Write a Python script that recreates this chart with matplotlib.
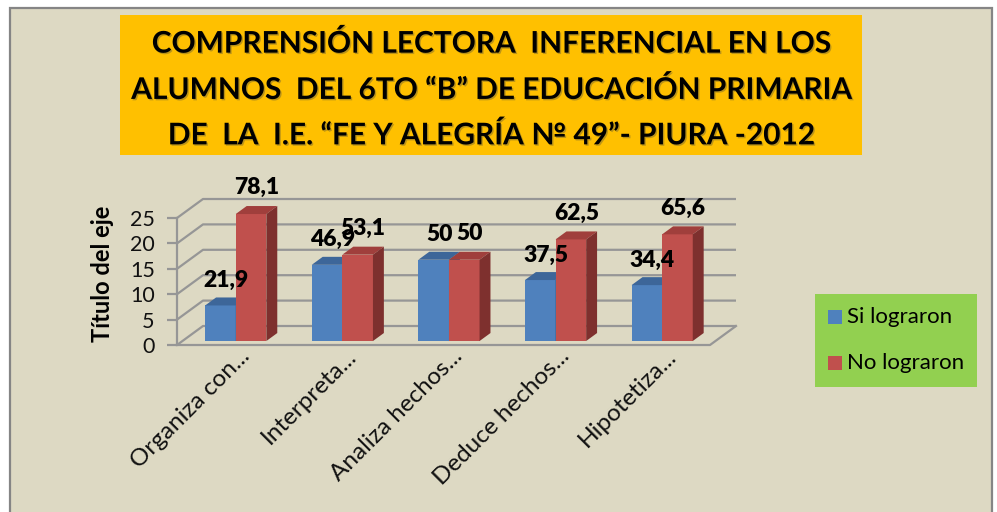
import matplotlib.pyplot as plt
import matplotlib.patheffects as pe
import matplotlib.transforms as mtransforms
from matplotlib.patches import Polygon, Rectangle

# data (bar heights are student counts, labels are percentages)
categories = ["Organiza con...", "Interpreta...", "Analiza hechos...",
              "Deduce hechos...", "Hipotetiza..."]
si_lograron = [7, 15, 16, 12, 11]
no_lograron = [25, 17, 16, 20, 21]
si_labels = ["21,9", "46,9", "50", "37,5", "34,4"]
no_labels = ["78,1", "53,1", "50", "62,5", "65,6"]
y_ticks = [0, 5, 10, 15, 20, 25]

title = ("COMPRENSIÓN LECTORA  INFERENCIAL EN LOS\n"
         "ALUMNOS  DEL 6TO “B” DE EDUCACIÓN PRIMARIA\n"
         "DE  LA  I.E. “FE Y ALEGRÍA № 49”- PIURA -2012")

BG = "#ddd9c3"
BLUE, BLUE_TOP, BLUE_SIDE = "#4f81bd", "#3d6699", "#385d8a"
RED, RED_TOP, RED_SIDE = "#c0504d", "#a03f3c", "#7e302e"
GRID = "#969696"

plt.rcParams['font.family'] = ['Lato', 'DejaVu Sans']

W, H = 997, 512
fig = plt.figure(figsize=(W / 100, H / 100), dpi=100, facecolor="white")


def fx(p):
    return p / W


def fy(p):
    return 1 - p / H


# chart area with border
fig.add_artist(Rectangle((fx(10), fy(530)), fx(982), 522 / H, transform=fig.transFigure,
                         facecolor=BG, edgecolor="#858585", lw=1.6, zorder=0))

# title box
fig.add_artist(Rectangle((fx(120), fy(155)), fx(742), 140 / H, transform=fig.transFigure,
                         facecolor="#ffc000", edgecolor="none", zorder=1))
fig.text(fx(491), fy(89), title, ha="center", va="center", fontsize=21.5,
         fontweight="bold", linespacing=1.72, color="black", zorder=2,
         path_effects=[pe.withSimplePatchShadow(offset=(1, -1), shadow_rgbFace="#7a6a30", alpha=0.5)])

# plot axes (front plane of the 3D box)
ax = fig.add_axes([fx(177), fy(345), fx(533), 127 / H])
ax.set_xlim(-0.5, 4.5)
ax.set_ylim(0, 25)
ax.patch.set_visible(False)

DX = 26 / (533 / 5)      # depth offset in x units
DY = 19 / (127 / 25)     # depth offset in y units
Z0 = 0.21                # bar front depth
ZD = 0.42                # bar depth
BW = 0.287

# walls / gridlines
for v in y_ticks:
    ax.plot([-0.5, -0.5 + DX, 4.5 + DX], [v, v + DY, v + DY], color=GRID, lw=1.6,
            zorder=1, clip_on=False, solid_capstyle="butt")
ax.plot([-0.5, 4.5, 4.5 + DX], [0, 0, DY], color=GRID, lw=1.6, zorder=1, clip_on=False)

for s in ["top", "right", "bottom"]:
    ax.spines[s].set_visible(False)
ax.spines["left"].set_color(GRID)
ax.spines["left"].set_linewidth(1.6)
ax.set_yticks(y_ticks)
ax.tick_params(axis="y", length=7, width=1.6, color=GRID, labelsize=15.5, pad=9,
               labelcolor="#111111")
ax.set_ylabel("Título del eje", fontsize=17, fontweight="bold")
ax.yaxis.set_label_coords(-0.118, 0.56)


def draw_bar(x0, value, front, top, side):
    base = DY * Z0
    left = x0 + DX * Z0
    ax.bar(left, value, width=BW, bottom=base, align="edge", color=front, zorder=3,
           clip_on=False)
    ddx, ddy = DX * ZD, DY * ZD
    t = base + value
    ax.add_patch(Polygon([(left, t), (left + BW, t), (left + BW + ddx, t + ddy), (left + ddx, t + ddy)],
                         closed=True, facecolor=top, edgecolor="none", zorder=3, clip_on=False))
    ax.add_patch(Polygon([(left + BW, base), (left + BW, t), (left + BW + ddx, t + ddy),
                          (left + BW + ddx, base + ddy)],
                         closed=True, facecolor=side, edgecolor="none", zorder=3, clip_on=False))
    return left + BW / 2 + ddx / 2, t


for i in range(len(categories)):
    bx, bt = draw_bar(i - BW, si_lograron[i], BLUE, BLUE_TOP, BLUE_SIDE)
    rx, rt = draw_bar(i, no_lograron[i], RED, RED_TOP, RED_SIDE)
    ax.annotate(si_labels[i], (bx, bt), xytext=(0, 18), textcoords="offset points",
                ha="center", va="center", fontsize=16.5, fontweight="heavy", zorder=6,
                annotation_clip=False)
    ax.annotate(no_labels[i], (rx, rt), xytext=(0, 19), textcoords="offset points",
                ha="center", va="center", fontsize=16.5, fontweight="heavy", zorder=6,
                annotation_clip=False)

# category labels
ax.set_xticks(range(len(categories)))
ax.set_xticklabels(categories, rotation=45, ha="right", va="center",
                   rotation_mode="anchor", fontsize=17.5, color="#111111")
ax.tick_params(axis="x", length=0, pad=0)
shift = mtransforms.ScaledTranslation(0.16, -0.08, fig.dpi_scale_trans)
for lab in ax.get_xticklabels():
    lab.set_transform(lab.get_transform() + shift)

# legend box
fig.add_artist(Rectangle((fx(815), fy(387)), fx(162), 93 / H, transform=fig.transFigure,
                         facecolor="#92d050", edgecolor="none", zorder=1))
for k, (name, col) in enumerate([("Si lograron", BLUE), ("No lograron", RED)]):
    yc = 317 + 46 * k
    fig.add_artist(Rectangle((fx(828), fy(yc + 7)), fx(14), 14 / H, transform=fig.transFigure,
                             facecolor=col, edgecolor="none", zorder=2))
    fig.text(fx(847), fy(yc), name, ha="left", va="center", fontsize=16, zorder=2)

fig.savefig("out.png", dpi=100, facecolor=fig.get_facecolor())
